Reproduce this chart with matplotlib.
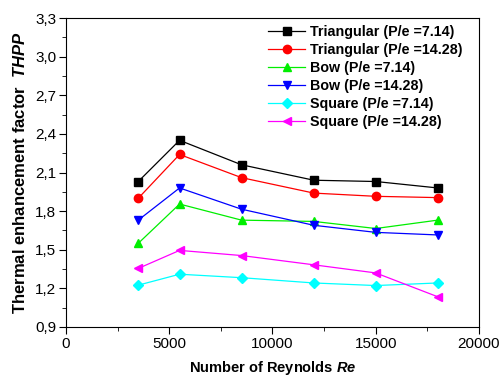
import matplotlib
matplotlib.use("Agg")
import matplotlib.pyplot as plt
from matplotlib.ticker import MultipleLocator, FuncFormatter

plt.rcParams['font.family'] = 'Liberation Sans'
plt.rcParams['mathtext.fontset'] = 'custom'
plt.rcParams['mathtext.it'] = 'Liberation Sans:italic:bold'
plt.rcParams['mathtext.rm'] = 'Liberation Sans:bold'

# Reynolds numbers tested
reynolds = [3500, 5500, 8500, 12000, 15000, 18000]

# Thermal enhancement factor per rib shape / pitch ratio
tri_714 = [2.03, 2.35, 2.16, 2.04, 2.03, 1.98]
tri_1428 = [1.90, 2.24, 2.06, 1.94, 1.915, 1.905]
bow_714 = [1.55, 1.855, 1.73, 1.72, 1.665, 1.73]
bow_1428 = [1.73, 1.98, 1.815, 1.69, 1.635, 1.615]
sq_714 = [1.225, 1.31, 1.283, 1.242, 1.222, 1.242]
sq_1428 = [1.355, 1.495, 1.455, 1.383, 1.32, 1.135]

series = [
    (tri_714, 'Triangular (P/e =7.14)', 'black', 's'),
    (tri_1428, 'Triangular (P/e =14.28)', 'red', 'o'),
    (bow_714, 'Bow (P/e =7.14)', '#00ee00', '^'),
    (bow_1428, 'Bow (P/e =14.28)', 'blue', 'v'),
    (sq_714, 'Square (P/e =7.14)', 'cyan', 'D'),
    (sq_1428, 'Square (P/e =14.28)', 'magenta', '<'),
]

fig = plt.figure(figsize=(5.02, 3.79), dpi=100)
ax = fig.add_axes([66 / 502, 1 - 327 / 379, 413 / 502, 309 / 379])

for vals, label, color, marker in series:
    ms = 5 if marker == 'D' else 6
    ax.plot(reynolds, vals, color=color, marker=marker, markersize=ms,
            linewidth=0.9, label=label)

ax.set_xlim(0, 20000)
ax.set_ylim(0.9, 3.3)
ax.xaxis.set_major_locator(MultipleLocator(5000))
ax.xaxis.set_minor_locator(MultipleLocator(2500))
ax.yaxis.set_major_locator(MultipleLocator(0.3))
ax.yaxis.set_minor_locator(MultipleLocator(0.15))
ax.yaxis.set_major_formatter(FuncFormatter(lambda v, p: f"{v:.1f}".replace('.', ',')))
ax.tick_params(which='both', direction='out', top=False, right=False,
               labelsize=11, pad=2)
ax.tick_params(which='major', length=5)
ax.tick_params(which='minor', length=3)

ax.set_xlabel('Number of Reynolds $Re$', fontsize=10.5, fontweight='bold', labelpad=6)
ax.set_ylabel('Thermal enhancement factor  $THPP$', fontsize=12, fontweight='bold', labelpad=5)

leg = ax.legend(loc='upper right', bbox_to_anchor=(0.973, 0.997), frameon=False,
                prop={'weight': 'bold', 'size': 10.3}, handlelength=2.6,
                labelspacing=0.28, handletextpad=0.3, borderaxespad=0)

fig.savefig('out.png', dpi=100)
